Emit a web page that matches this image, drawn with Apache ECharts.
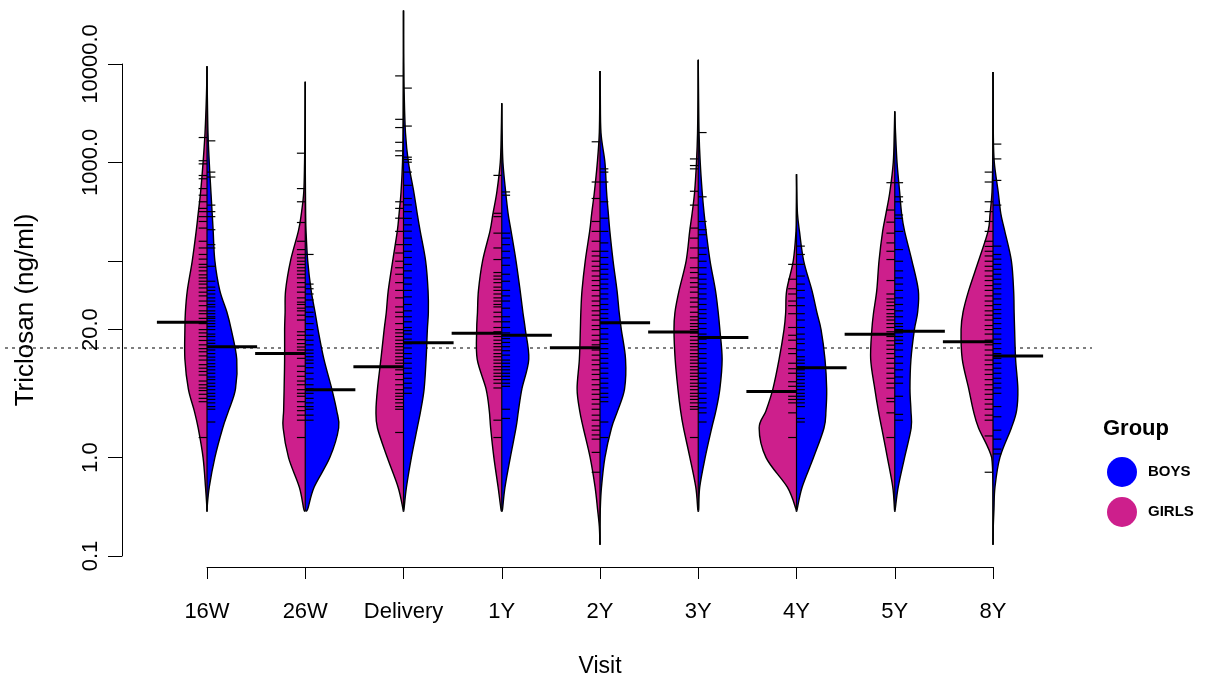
<!DOCTYPE html>
<html>
<head>
<meta charset="utf-8">
<script src="https://cdn.jsdelivr.net/npm/echarts@6/dist/echarts.min.js"></script>
<style>html,body{margin:0;background:#fff}#main{width:1208px;height:683px}</style>
</head>
<body>
<div id="main"></div>
<script>
var visits = ['16W', '26W', 'Delivery', '1Y', '2Y', '3Y', '4Y', '5Y', '8Y'];

// density outline, read at these concentrations (ng/ml)
var levels = [0.2, 0.3, 0.5, 1, 2, 3, 5, 10, 20, 30, 50, 100, 200, 300, 500, 1000, 2000, 5000, 10000, 20000];
var beanBottom = [0.29, 0.29, 0.29, 0.29, 0.13, 0.29, 0.29, 0.29, 0.13];
var beanTop = [9500, 6600, 35000, 4000, 8500, 10900, 760, 3300, 8300];

var girlsDensity = [
    [0, 0, 1.5, 4, 9, 13, 19, 22.5, 22.5, 22, 20, 15, 11, 9, 6.5, 4, 2, 0.5, 0, 0],
    [0, 1.5, 6, 17, 22.5, 22, 21.5, 21, 21, 20.5, 20, 15, 7, 4, 1.5, 0.7, 0.3, 0, 0, 0],
    [0, 0.5, 5.5, 16.5, 26.5, 28, 26.5, 23, 19.7, 17.5, 15.5, 11, 6.3, 4.5, 2.5, 1, 0.5, 0.3, 0.2, 0],
    [0, 0.8, 3.7, 8, 11.3, 12.7, 16, 25, 25.5, 24.7, 23.7, 19.5, 12, 9, 5, 1.5, 0.5, 0, 0, 0],
    [0.7, 2.5, 5, 10, 17, 20.7, 23.3, 21, 20, 19.5, 18.3, 15, 10.5, 8.5, 5.7, 2.7, 0.7, 0.2, 0, 0],
    [0, 0.5, 2.5, 8.5, 15, 18, 20.7, 23.5, 24.7, 23.7, 19.5, 12.3, 8.7, 6.3, 3.7, 1.8, 0.7, 0.2, 0, 0],
    [0, 0.5, 9.3, 31, 38, 31, 24, 17.7, 12.7, 11, 10, 3.3, 0.5, 0.2, 0, 0, 0, 0, 0, 0],
    [0, 0.3, 2, 7.5, 13.3, 16.7, 20.3, 24.5, 23.3, 21.5, 18.3, 16, 12.3, 9, 5, 1.5, 0.5, 0, 0, 0],
    [0, 0, 0, 1.3, 14.7, 20, 24.7, 31.3, 32.5, 30.5, 24.7, 14.7, 5, 3, 1, 0.3, 0.1, 0, 0, 0]
];
var boysDensity = [
    [0, 0, 2.3, 8, 16, 22, 29, 30.3, 24.7, 20.3, 13, 8, 6.3, 5.3, 4, 2.3, 1, 0.3, 0, 0],
    [0, 2.5, 9, 25, 34, 32, 27, 19, 13, 10, 6, 2.5, 0.8, 0.4, 0.2, 0, 0, 0, 0, 0],
    [0, 0.5, 3, 8, 14, 17.5, 21, 23, 24.3, 25.3, 25, 22.5, 17, 14, 10.5, 5, 2, 0.7, 0.3, 0],
    [0, 0.8, 3.3, 8.7, 14.5, 17, 20.5, 27.5, 24, 21.5, 18.7, 14.5, 9.5, 6.5, 4, 1.2, 0.4, 0, 0, 0],
    [0, 0.3, 1.5, 5, 11.7, 18, 25, 26, 21.7, 19.5, 17.3, 13.3, 10, 8.5, 6.7, 5, 1, 0.3, 0, 0],
    [0, 0.5, 1.5, 7, 13.7, 18, 22, 24.3, 22, 20.3, 17.5, 12, 8, 6, 4, 2, 0.8, 0.3, 0, 0],
    [0, 0.7, 5.7, 17.3, 28, 30, 30.7, 29, 25, 20.7, 15.7, 7.3, 3, 1, 0.3, 0, 0, 0, 0, 0],
    [0, 0.5, 3.5, 10, 16.7, 16.5, 15.5, 16.5, 20, 23.3, 24, 17.5, 10, 7, 5, 2.3, 0.8, 0, 0, 0],
    [0.3, 1, 2, 7, 18.7, 24, 25.3, 23, 22, 21.5, 21, 18.7, 12, 8, 5.3, 1.3, 0.3, 0.2, 0, 0]
];

var girlsMean = [23.8, 11.4, 8.4, 18.4, 13.1, 18.9, 4.7, 17.9, 15];
var boysMean = [13.4, 4.9, 14.7, 17.5, 23.4, 16.6, 8.2, 19.2, 10.8];
var overallMean = 13;

// individual observations (bean lines)
var girlsObs = [
    [1790, 1040, 966, 736, 682, 542, 464, 398, 341, 316, 281, 251, 215, 158, 135, 116, 104, 92, 86, 79, 72, 67, 62, 58, 53, 48, 44, 39, 35, 31, 29, 26, 23, 20, 18.5, 17, 15.5, 14, 12.8, 11.9, 10.8, 9.8, 8.8, 8.1, 7.5, 6.9, 6, 5.5, 5.1, 4.8, 4.4, 4, 3.7, 1.6],
    [1240, 542, 398, 245, 158, 130, 116, 107, 99, 92, 85, 79, 73, 67, 60, 54, 48, 42, 38, 36, 33, 31, 28, 25, 19, 17.5, 15.8, 14.4, 13.3, 12.4, 11.2, 10.2, 8.5, 7.5, 6.7, 6, 5.5, 4.9, 4.5, 4.2, 3.7, 3.3, 3, 2.7, 2.4, 1.6],
    [7570, 2740, 2260, 1600, 1310, 1170, 398, 341, 271, 199, 146, 120, 99, 85, 73, 60, 50, 42, 34, 30, 27, 23, 20, 18.5, 17, 15.6, 14.4, 13.4, 12.4, 11.5, 10.6, 9.8, 9.1, 8.4, 7.8, 7, 6.2, 5.5, 4.9, 4.5, 4.2, 3.9, 3.6, 3.3, 3.1, 1.8],
    [738, 304, 281, 191, 135, 103, 76, 70, 65, 60, 54, 50, 46, 42, 39, 36, 34, 30, 27, 24, 21, 19, 17, 15.6, 14.4, 13.4, 12.4, 11.4, 10.6, 9.8, 9.1, 8.4, 7.8, 7.2, 6.7, 6.2, 5.7, 5.1, 2.4, 1.6],
    [1620, 632, 430, 251, 199, 158, 125, 112, 99, 88, 79, 70, 63, 56, 50, 44, 39, 35, 31, 28, 25, 22, 20, 17.5, 15.6, 14, 12.4, 11, 9.8, 8.8, 7.8, 7, 6.2, 5.5, 4.9, 4.4, 3.9, 3.5, 3.1, 2.7, 2.4, 2.1, 1.9, 1.7, 1.54, 1.13, 0.71],
    [1085, 929, 860, 509, 368, 215, 170, 135, 107, 85, 76, 67, 60, 54, 48, 42, 38, 34, 30, 27, 25, 23, 21.5, 20, 18.5, 17, 15.6, 14.4, 13.4, 12.4, 11.4, 10.6, 9.8, 9.1, 8.4, 7.8, 7.2, 6.7, 6.2, 5.7, 5.3, 4.9, 4.5, 4.2, 3.9, 3.6, 3.3, 3.1, 1.6],
    [92, 65, 52, 46, 39, 35, 29, 21, 17.5, 15.6, 12.8, 11.4, 9.1, 8, 7.2, 5.9, 5.3, 4.7, 4.2, 3.9, 3.6, 2.85, 1.6],
    [622, 328, 247, 191, 152, 125, 103, 63, 46, 41, 38, 35, 32, 29, 27, 25, 23, 21, 19, 17, 15.4, 13.9, 12.6, 11.4, 10.2, 9.1, 8.1, 7.2, 6.4, 5.7, 5.1, 4, 3.7, 2.85, 1.6],
    [797, 632, 398, 316, 251, 199, 158, 140, 125, 112, 99, 88, 79, 70, 63, 56, 50, 44, 39, 35, 31, 28, 25, 22, 20, 18, 15.6, 14, 12.4, 11, 9.8, 8.8, 7.8, 7, 6.2, 5.5, 4.9, 4.4, 3.9, 3.5, 3.1, 2.7, 2.4, 1.66, 0.71]
];
var boysObs = [
    [1656, 797, 710, 368, 316, 281, 207, 146, 135, 88, 62, 54, 50, 46, 42, 39, 36, 34, 31, 29, 27, 26, 24.5, 23, 21.5, 20, 18, 17, 15.6, 14.5, 13.4, 12.4, 11.4, 10.5, 9.8, 9, 8.4, 7.8, 7.2, 6.6, 6.2, 5.7, 5.3, 4.9, 4.5, 4.2, 3.9, 3.6, 3.3, 3.1, 2.3],
    [116, 58, 52, 46, 40, 34, 30, 27, 23, 20, 17.5, 15.6, 14, 12.4, 11.5, 10.6, 9.8, 9.1, 8.2, 7.2, 6.3, 5.5, 5, 4.5, 4, 3.6, 3.3, 3.1, 2.7, 2.4],
    [5690, 2340, 1130, 1070, 1005, 797, 585, 430, 370, 316, 270, 232, 200, 170, 146, 125, 108, 92, 79, 67, 58, 50, 43, 36, 31, 27, 24, 21, 19.5, 18, 16, 14.4, 13, 11.4, 10.2, 9.1, 8.1, 7.2, 6.4, 5.7, 5.1, 4.5],
    [501, 464, 191, 170, 146, 125, 107, 90, 73, 62, 50, 44, 39, 33, 27, 24, 21, 18.5, 16.2, 14.8, 13.4, 12.2, 11, 9.8, 9.1, 8.4, 7.8, 7.2, 6.7, 6.2, 5.7, 5.3, 3.1, 2.5],
    [860, 797, 632, 398, 271, 199, 152, 125, 108, 92, 82, 73, 65, 58, 52, 46, 41, 36, 32, 29, 26, 23, 20.5, 18, 16, 14.4, 12.8, 11.4, 10.2, 9.1, 8.1, 7.2, 6.4, 5.7, 5.1, 4.5, 4.1, 3.7, 2.3, 1.6],
    [2010, 447, 251, 207, 184, 135, 116, 99, 85, 73, 65, 58, 52, 46, 41, 36, 32, 29, 26, 23, 20.5, 18, 16, 14.4, 12.8, 11.4, 10.2, 9.1, 8.1, 7.2, 6.4, 5.7, 5.1, 4.5, 4, 3.6, 3.2, 2.85, 2.3],
    [141, 116, 92, 70, 58, 50, 42, 35, 29, 25, 21, 18, 16, 14.4, 12.4, 10.6, 9.8, 9.1, 8.4, 7.8, 7.2, 6.7, 6.2, 5.7, 5.3, 4.9, 4.5, 4.2, 3.9, 3.6, 3.3, 2.5, 2.3],
    [622, 447, 398, 292, 270, 199, 130, 99, 79, 67, 58, 50, 42, 36, 31, 27, 23, 21.5, 20, 18.5, 17, 15.6, 14.4, 12.4, 10.6, 9.1, 7.8, 6.6, 5.7, 4.2, 2.75, 2.4],
    [1535, 1085, 656, 368, 141, 116, 104, 92, 82, 73, 65, 58, 52, 46, 41, 36, 32, 29, 26, 23, 20.5, 18, 16, 14.4, 12.8, 11.4, 10.2, 9.1, 8.1, 7.2, 6.4, 5.7, 5.1, 4.5, 3.3, 2.6, 1.9, 1.54, 1.22, 1.09]
];

var yTicks = [0.1, 1, 20, 100, 1000, 10000];
var yLabels = [0.1, 1, 20, 1000, 10000];

var myChart = echarts.init(document.getElementById('main'));

function lg(v) { return Math.log10(v); }

// smooth curve through the outline points (catmull-rom -> bezier)
function curvePath(p, cx, side) {
    var d = 'M' + p[0][0] + ',' + p[0][1];
    for (var i = 0; i < p.length - 1; i++) {
        var p0 = p[Math.max(i - 1, 0)], p1 = p[i], p2 = p[i + 1], p3 = p[Math.min(i + 2, p.length - 1)];
        var c1x = p1[0] + (p2[0] - p0[0]) / 6, c1y = p1[1] + (p2[1] - p0[1]) / 6;
        var c2x = p2[0] - (p3[0] - p1[0]) / 6, c2y = p2[1] - (p3[1] - p1[1]) / 6;
        if (side > 0) { c1x = Math.max(cx, c1x); c2x = Math.max(cx, c2x); }
        else { c1x = Math.min(cx, c1x); c2x = Math.min(cx, c2x); }
        d += ' C' + c1x + ',' + c1y + ' ' + c2x + ',' + c2y + ' ' + p2[0] + ',' + p2[1];
    }
    return d;
}

function beanHalf(side, dens, obs, means) {
    return function (params, api) {
        var i = params.dataIndex;
        var band = api.size([1, 0])[0];
        var cx = api.coord([i, 0])[0];
        var yOf = function (v) { return api.coord([i, lg(v)])[1]; };
        var pts = [[cx, yOf(beanBottom[i])]];
        for (var k = 0; k < levels.length; k++) {
            if (levels[k] > beanBottom[i] && levels[k] < beanTop[i]) {
                pts.push([cx + side * dens[i][k] * band / 100, yOf(levels[k])]);
            }
        }
        pts.push([cx, yOf(beanTop[i])]);
        var path = curvePath(pts, cx, side);
        var children = [
            { type: 'path', shape: { pathData: path + ' Z' }, style: { fill: api.visual('color'), stroke: null } },
            { type: 'path', shape: { pathData: path }, style: { fill: null, stroke: '#000', lineWidth: 1.4 } }
        ];
        obs[i].forEach(function (v) {
            var y = yOf(v);
            children.push({ type: 'line', shape: { x1: cx, y1: y, x2: cx + side * band * 0.085, y2: y },
                style: { stroke: '#000', lineWidth: 1.2 } });
        });
        var ym = yOf(means[i]);
        children.push({ type: 'line', shape: { x1: cx, y1: ym, x2: cx + side * band * 0.51, y2: ym },
            style: { stroke: '#000', lineWidth: 3 } });
        return { type: 'group', children: children };
    };
}

var option = {
    animation: false,
    title: {
        text: 'Group', left: 1098, top: 413,
        textStyle: { fontFamily: 'Liberation Sans', fontSize: 22, fontWeight: 'bold', color: '#000' }
    },
    legend: {
        data: ['BOYS', 'GIRLS'],
        orient: 'vertical', left: 1102, top: 452,
        icon: 'circle', itemWidth: 30, itemHeight: 30, itemGap: 10,
        selectedMode: false,
        textStyle: { fontFamily: 'Liberation Sans', fontSize: 15, fontWeight: 'bold', color: '#000', padding: [0, 0, 0, 6] }
    },
    grid: { left: 207, right: 215, top: 64, bottom: 122 },
    xAxis: {
        type: 'category', data: visits, boundaryGap: false, offset: 11,
        name: 'Visit', nameLocation: 'middle', nameGap: 88,
        nameTextStyle: { fontFamily: 'Liberation Sans', fontSize: 23, color: '#000' },
        axisLine: { onZero: false, lineStyle: { color: '#000', width: 1 } },
        axisTick: { length: 12, lineStyle: { color: '#000' } },
        axisLabel: { fontFamily: 'Liberation Sans', fontSize: 22, color: '#000', margin: 34, interval: 0 },
        splitLine: { show: false }
    },
    yAxis: {
        type: 'value', min: -1, max: 4, offset: 85,
        name: 'Triclosan (ng/ml)', nameLocation: 'middle', nameGap: 83,
        nameTextStyle: { fontFamily: 'Liberation Sans', fontSize: 26, color: '#000' },
        axisLine: { show: true, lineStyle: { color: '#000', width: 1 } },
        axisTick: { show: true, length: 14, lineStyle: { color: '#000' }, customValues: yTicks.map(lg) },
        axisLabel: {
            fontFamily: 'Liberation Sans', fontSize: 22, color: '#000', rotate: 90, margin: 20,
            customValues: yLabels.map(lg),
            formatter: function (v) { return Math.pow(10, v).toFixed(1); }
        },
        splitLine: { show: false }
    },
    series: [
        {
            name: 'mean', type: 'custom', silent: true,
            data: [[0, lg(overallMean)]],
            renderItem: function (params, api) {
                var y = api.coord([0, api.value(1)])[1];
                return { type: 'line', shape: { x1: 5, y1: y, x2: api.getWidth() - 116, y2: y },
                    style: { stroke: '#000', lineWidth: 1.2, lineDash: [3, 4] } };
            }
        },
        {
            name: 'GIRLS', type: 'custom', itemStyle: { color: '#CD1F8C' },
            data: visits.map(function (v, i) { return [i, 0]; }),
            renderItem: beanHalf(-1, girlsDensity, girlsObs, girlsMean)
        },
        {
            name: 'BOYS', type: 'custom', itemStyle: { color: '#0000FF' },
            data: visits.map(function (v, i) { return [i, 0]; }),
            renderItem: beanHalf(1, boysDensity, boysObs, boysMean)
        },
        {
            name: 'range', type: 'custom', silent: true,
            data: visits.map(function (v, i) { return [i, 0]; }),
            renderItem: function (params, api) {
                var i = params.dataIndex;
                var cx = api.coord([i, 0])[0];
                return { type: 'line',
                    shape: { x1: cx, y1: api.coord([i, lg(beanBottom[i])])[1], x2: cx, y2: api.coord([i, lg(beanTop[i])])[1] },
                    style: { stroke: '#000', lineWidth: 1.2 } };
            }
        }
    ]
};

myChart.setOption(option);
window.onresize = function () { myChart.resize(); };
</script>
</body>
</html>
